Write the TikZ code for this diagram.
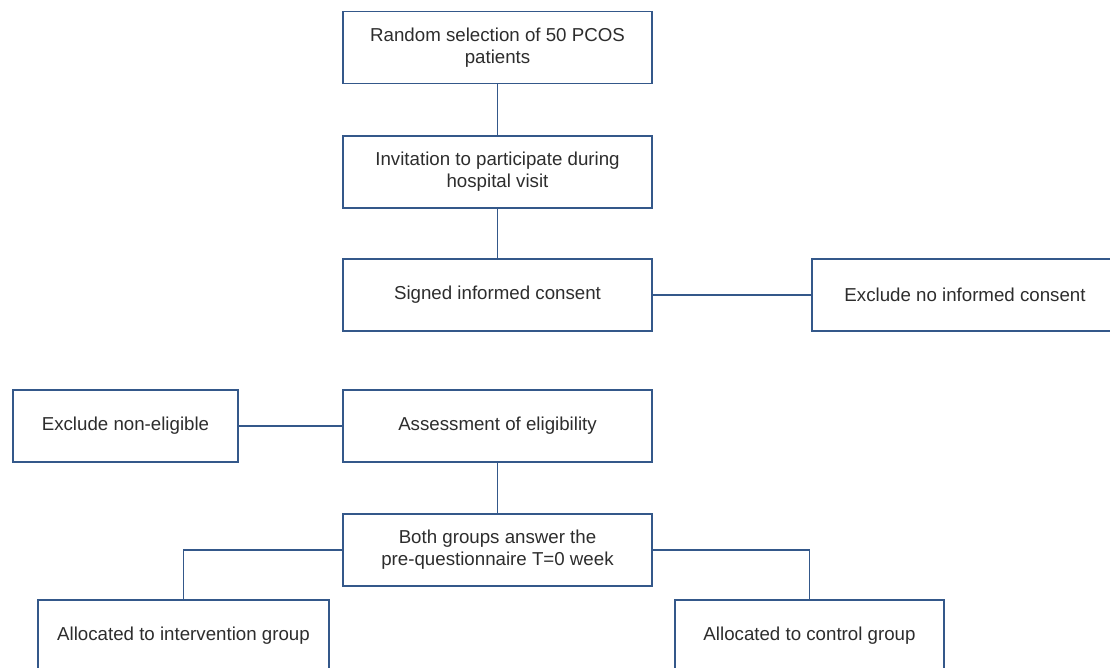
\documentclass[tikz,border=0pt]{standalone}
\usepackage{fontspec}
\setmainfont{Liberation Sans}
\usepackage{tikz}
\usetikzlibrary{positioning}

\definecolor{boxblue}{RGB}{52,88,138}
\definecolor{txtgray}{RGB}{45,45,45}

\tikzset{
  flowbox/.style={draw=boxblue, line width=1.3pt, fill=white, text=txtgray,
    minimum width=309pt, minimum height=72pt, inner sep=0pt, align=center,
    font=\fontsize{18.7}{22}\selectfont},
  link/.style={draw=boxblue, line width=1.3pt}
}

\begin{document}
\begin{tikzpicture}[x=1pt,y=-1pt]

\clip (0,0) rectangle (1110,668);

\node[flowbox] (sel) at (497.5,47.5) {Random selection of 50 PCOS\\patients};
\node[flowbox] (inv) at (497.5,172) {Invitation to participate during\\hospital visit};
\node[flowbox] (cons) at (497.5,295) {Signed informed consent};
\node[flowbox, minimum width=306pt] (excons) at (965,295) {Exclude no informed consent};

\node[flowbox, minimum width=225pt] (noelig) at (125.5,426) {Exclude non-eligible};
\node[flowbox] (elig) at (497.5,426) {Assessment of eligibility};
\node[flowbox] (both) at (497.5,550) {Both groups answer the\\pre-questionnaire T=0 week};

\node[flowbox, minimum width=291pt] (interv) at (183.5,636) {Allocated to intervention group};
\node[flowbox, minimum width=269pt] (ctrl) at (809.5,636) {Allocated to control group};

\draw[link] (sel) -- (inv);
\draw[link] (inv) -- (cons);
\draw[link] (cons) -- (excons);
\draw[link] (noelig) -- (elig);
\draw[link] (elig) -- (both);
\draw[link] (both.west) -| (interv.north);
\draw[link] (both.east) -| (ctrl.north);

\end{tikzpicture}
\end{document}
